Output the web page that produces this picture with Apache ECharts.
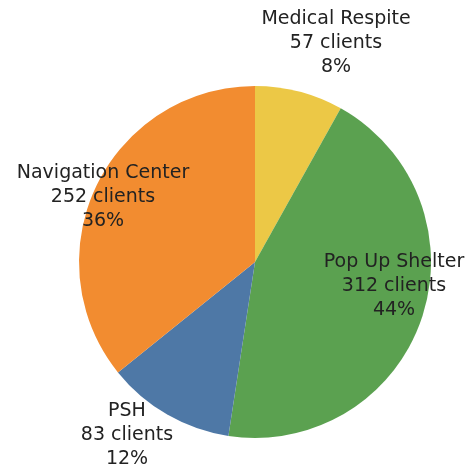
<!DOCTYPE html>
<html>
<head>
<meta charset="utf-8">
<script src="https://cdn.jsdelivr.net/npm/echarts@6/dist/echarts.min.js"></script>
<style>
  html, body { margin: 0; padding: 0; background: #fff; }
  #chart { width: 470px; height: 469px; }
</style>
</head>
<body>
<div id="chart"></div>
<script>
var programs = ['Medical Respite', 'Pop Up Shelter', 'PSH', 'Navigation Center'];
var clients = [57, 312, 83, 252];
var percents = ['8%', '44%', '12%', '36%'];
var colors = ['#ECC846', '#5BA150', '#4E78A6', '#F28C30'];

// where each label block sits (center of the text)
var labelPos = [[336, 43], [394, 286], [127, 435], [103, 197]];

var chart = echarts.init(document.getElementById('chart'));
chart.setOption({
  animation: false,
  series: [
    {
      type: 'pie',
      radius: 176,
      center: [255, 262],
      startAngle: 90,
      clockwise: true,
      color: colors,
      data: programs.map(function (p, i) {
        return { name: p, value: clients[i] };
      }),
      label: {
        show: true,
        position: 'outside',
        overflow: 'none',
        formatter: function (params) {
          return params.name + '\n' + params.value + ' clients\n' + percents[params.dataIndex];
        },
        fontFamily: 'DejaVu Sans',
        fontSize: 19,
        lineHeight: 24,
        color: '#222',
        align: 'center'
      },
      labelLine: { show: false },
      labelLayout: function (params) {
        var p = labelPos[params.dataIndex];
        return { x: p[0], y: p[1], align: 'center', verticalAlign: 'middle', hideOverlap: false };
      },
      emphasis: { disabled: true }
    }
  ]
});
</script>
</body>
</html>
